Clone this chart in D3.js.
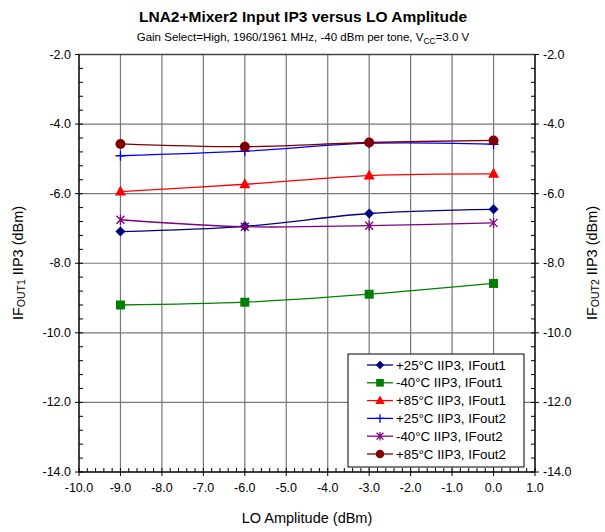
<!DOCTYPE html>
<html><head><meta charset="utf-8">
<script src="https://cdn.jsdelivr.net/npm/d3@7"></script>
<style>body{margin:0;background:#fff}svg{font-family:"Liberation Sans",Arial,sans-serif}</style>
</head><body><svg id="c" width="605" height="532"></svg>
<script>
const loAmplitude = [-9, -6, -3, 0];
const seriesNames = ["+25°C IIP3, IFout1","-40°C IIP3, IFout1","+85°C IIP3, IFout1","+25°C IIP3, IFout2","-40°C IIP3, IFout2","+85°C IIP3, IFout2"];
const p25_if1 = [-7.09, -6.94, -6.57, -6.45];
const m40_if1 = [-9.20, -9.12, -8.89, -8.58];
const p85_if1 = [-5.94, -5.73, -5.48, -5.43];
const p25_if2 = [-4.91, -4.78, -4.55, -4.58];
const m40_if2 = [-6.75, -6.95, -6.92, -6.84];
const p85_if2 = [-4.57, -4.65, -4.53, -4.47];
const colors = ["#000080","#008000","#FF0000","#0000FF","#800080","#800000"];
const markers = ["diamond","square","triangle","plus","star","circle"];
const xTicks = [-10,-9,-8,-7,-6,-5,-4,-3,-2,-1,0,1];
const yTicks = [-2,-4,-6,-8,-10,-12,-14];

const allSeries = [p25_if1, m40_if1, p85_if1, p25_if2, m40_if2, p85_if2];
const svg = d3.select("#c");
const L=79, R=535, T=54.5, B=472;
const x = d3.scaleLinear().domain([-10,1]).range([L,R]);
const y = d3.scaleLinear().domain([-14,-2]).range([B,T]);

// gridlines
const g = svg.append("g");
g.selectAll(".vg").data(d3.range(-9,1)).join("line")
 .attr("x1",d=>x(d)).attr("x2",d=>x(d)).attr("y1",T).attr("y2",B)
 .attr("stroke","#777").attr("stroke-width",1.2);
g.selectAll(".hg").data([-4,-6,-8,-10,-12]).join("line")
 .attr("y1",d=>y(d)).attr("y2",d=>y(d)).attr("x1",L).attr("x2",R)
 .attr("stroke","#777").attr("stroke-width",1.2);
svg.append("line").attr("x1",L).attr("x2",R).attr("y1",T).attr("y2",T).attr("stroke","#444").attr("stroke-width",1.5);

// axes
const fmt = d => d.toFixed(1);
const minorY = d3.range(-14,-2.001,0.4).map(v=>+v.toFixed(1));
const minorX = d3.range(-10,1.001,0.2).map(v=>+v.toFixed(1));
function axisLine(x1,y1,x2,y2){svg.append("line").attr("x1",x1).attr("y1",y1).attr("x2",x2).attr("y2",y2).attr("stroke","#000").attr("stroke-width",1.5);}
axisLine(L,T,L,B); axisLine(R,T,R,B); axisLine(L,B,R,B);
svg.selectAll(".ymL").data(minorY).join("line").attr("x1",L).attr("x2",L+4).attr("y1",d=>y(d)).attr("y2",d=>y(d)).attr("stroke","#000");
svg.selectAll(".ymR").data(minorY).join("line").attr("x1",R).attr("x2",R-4).attr("y1",d=>y(d)).attr("y2",d=>y(d)).attr("stroke","#000");
svg.selectAll(".yML").data(yTicks).join("line").attr("x1",L-4).attr("x2",L).attr("y1",d=>y(d)).attr("y2",d=>y(d)).attr("stroke","#000");
svg.selectAll(".yMR").data(yTicks).join("line").attr("x1",R).attr("x2",R+4).attr("y1",d=>y(d)).attr("y2",d=>y(d)).attr("stroke","#000");
svg.selectAll(".xm").data(minorX).join("line").attr("x1",d=>x(d)).attr("x2",d=>x(d)).attr("y1",B).attr("y2",B-4).attr("stroke","#000");
svg.selectAll(".xM").data(xTicks).join("line").attr("x1",d=>x(d)).attr("x2",d=>x(d)).attr("y1",B).attr("y2",B+4).attr("stroke","#000");

svg.selectAll(".ylL").data(yTicks).join("text").attr("x",L-8).attr("y",d=>y(d)+4).attr("text-anchor","end").attr("font-size",12.5).text(fmt);
svg.selectAll(".ylR").data(yTicks).join("text").attr("x",R+8).attr("y",d=>y(d)+4).attr("text-anchor","start").attr("font-size",12.5).text(fmt);
svg.selectAll(".xl").data(xTicks).join("text").attr("x",d=>x(d)).attr("y",B+20).attr("text-anchor","middle").attr("font-size",12.5).text(fmt);

// titles
svg.append("text").attr("x",303).attr("y",22).attr("text-anchor","middle").attr("font-size",15.5).attr("font-weight","bold").text("LNA2+Mixer2 Input IP3 versus LO Amplitude");
const st = svg.append("text").attr("x",303).attr("y",41).attr("text-anchor","middle").attr("font-size",11.5);
st.append("tspan").text("Gain Select=High, 1960/1961 MHz, -40 dBm per tone, V");
st.append("tspan").attr("font-size",8.5).attr("dy",3).text("CC");
st.append("tspan").attr("dy",-3).text("=3.0 V");
svg.append("text").attr("x",307).attr("y",523).attr("text-anchor","middle").attr("font-size",14.5).text("LO Amplitude (dBm)");
function yTitle(cx, sub){
  const t = svg.append("text").attr("transform",`translate(${cx},263) rotate(-90)`).attr("text-anchor","middle").attr("font-size",14.5);
  t.append("tspan").text("IF");
  t.append("tspan").attr("font-size",10.5).attr("dy",2).text(sub);
  t.append("tspan").attr("dy",-2).text(" IIP3 (dBm)");
}
yTitle(23,"OUT1"); yTitle(597,"OUT2");

// series
const line = d3.line().x(d=>x(d[0])).y(d=>y(d[1])).curve(d3.curveCatmullRom.alpha(0.5));
function drawMarker(sel, type, color, cx, cy, s){
  s = s || 1;
  if(type==="diamond") sel.append("path").attr("d",`M${cx},${cy-5*s}L${cx+5*s},${cy}L${cx},${cy+5*s}L${cx-5*s},${cy}Z`).attr("fill",color);
  else if(type==="square") sel.append("rect").attr("x",cx-4.5*s).attr("y",cy-4.5*s).attr("width",9*s).attr("height",9*s).attr("fill",color);
  else if(type==="triangle") sel.append("path").attr("d",`M${cx},${cy-6*s}L${cx+5.5*s},${cy+4*s}L${cx-5.5*s},${cy+4*s}Z`).attr("fill",color);
  else if(type==="plus") sel.append("path").attr("d",`M${cx-5*s},${cy}H${cx+5*s}M${cx},${cy-5*s}V${cy+5*s}`).attr("stroke",color).attr("stroke-width",1.3).attr("fill","none");
  else if(type==="star") sel.append("path").attr("d",`M${cx-4*s},${cy-4*s}L${cx+4*s},${cy+4*s}M${cx-4*s},${cy+4*s}L${cx+4*s},${cy-4*s}M${cx},${cy-5*s}V${cy+5*s}`).attr("stroke",color).attr("stroke-width",1.3).attr("fill","none");
  else if(type==="circle") sel.append("circle").attr("cx",cx).attr("cy",cy).attr("r",5*s).attr("fill",color);
}
allSeries.forEach((vals,i)=>{
  const pts = loAmplitude.map((a,j)=>[a,vals[j]]);
  const gs = svg.append("g");
  gs.append("path").attr("d",line(pts)).attr("fill","none").attr("stroke",colors[i]).attr("stroke-width",1.3);
  pts.forEach(p=>drawMarker(gs, markers[i], colors[i], x(p[0]), y(p[1])));
});

// legend
const lg = svg.append("g");
lg.append("rect").attr("x",348).attr("y",354).attr("width",176).attr("height",113).attr("fill","#fff").attr("stroke","#000").attr("stroke-width",1);
seriesNames.forEach((n,i)=>{
  const cy = 365 + i*17.8;
  lg.append("line").attr("x1",367).attr("x2",393).attr("y1",cy).attr("y2",cy).attr("stroke",colors[i]).attr("stroke-width",1.3);
  drawMarker(lg, markers[i], colors[i], 380, cy, 0.85);
  lg.append("text").attr("x",396).attr("y",cy+4.5).attr("font-size",13.3).text(n);
});
</script></body></html>
